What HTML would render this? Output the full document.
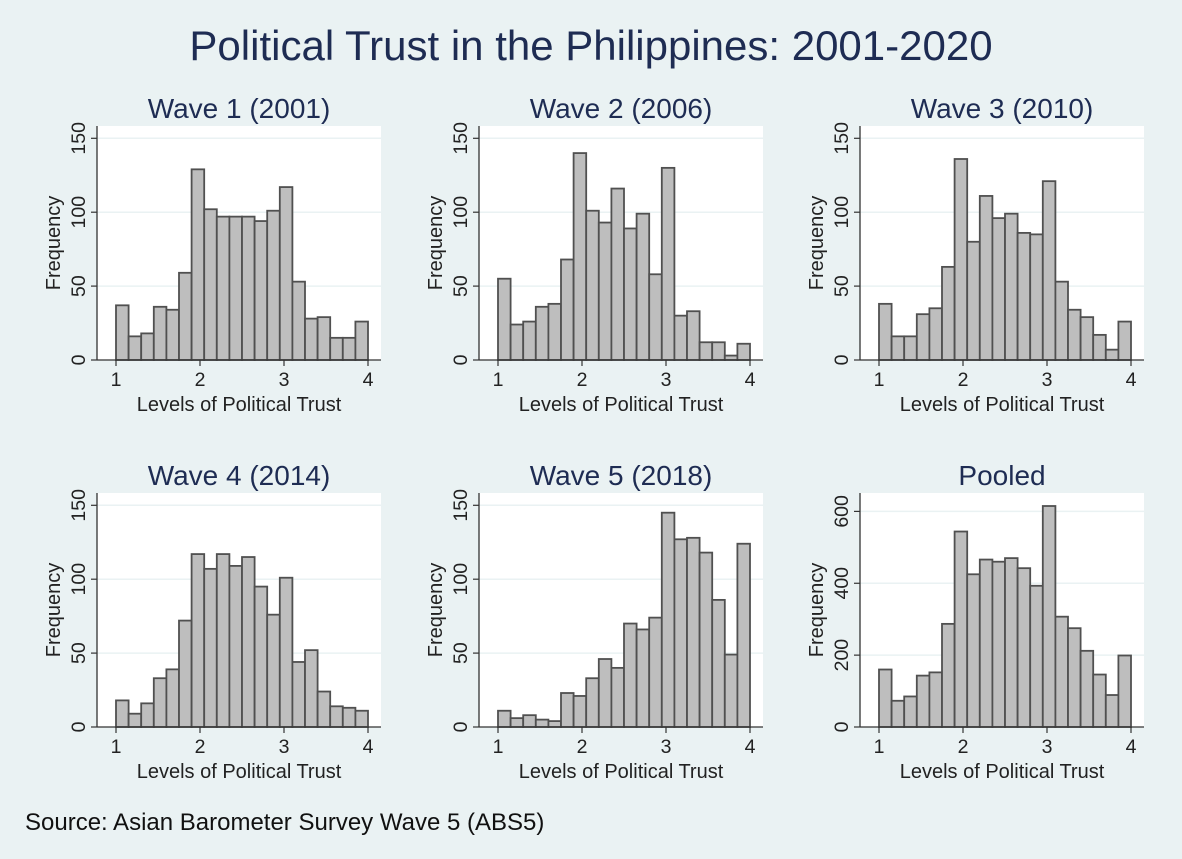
<!DOCTYPE html>
<html><head><meta charset="utf-8">
<style>
html,body{margin:0;padding:0;background:#eaf2f3;}
svg{display:block;font-family:"Liberation Sans",sans-serif;}
</style></head>
<body>
<svg id="chart" width="1182" height="859">
<rect x="0" y="0" width="1182" height="859" fill="#eaf2f3"/>
<text x="591" y="60" text-anchor="middle" font-size="42" fill="#1e2c53">Political Trust in the Philippines: 2001-2020</text>
<text x="25" y="830" font-size="24" fill="#111">Source: Asian Barometer Survey Wave 5 (ABS5)</text>
</svg>
<script>
const panelTitles = ["Wave 1 (2001)","Wave 2 (2006)","Wave 3 (2010)","Wave 4 (2014)","Wave 5 (2018)","Pooled"];
const binStart = 1, binWidth = 0.15;
const xTicks = [1,2,3,4];
const yTicksSmall = [0,50,100,150];
const yTicksPooled = [0,200,400,600];
const wave1 = [37,16,18,36,34,59,129,102,97,97,97,94,101,117,53,28,29,15,15,26];
const wave2 = [55,24,26,36,38,68,140,101,93,116,89,99,58,130,30,33,12,12,3,11];
const wave3 = [38,16,16,31,35,63,136,80,111,96,99,86,85,121,53,34,29,17,7,26];
const wave4 = [18,9,16,33,39,72,117,107,117,109,115,95,76,101,44,52,24,14,13,11];
const wave5 = [11,6,8,5,4,23,21,33,46,40,70,66,74,145,127,128,118,86,49,124];
const pooled = [160,73,85,143,152,287,544,425,466,460,470,442,393,615,307,275,212,146,89,199];
const series = [wave1,wave2,wave3,wave4,wave5,pooled];

const NS = "http://www.w3.org/2000/svg";
const svg = document.getElementById('chart');
function mk(tag, attrs, parent){
  const e = document.createElementNS(NS, tag);
  for (const k in attrs) e.setAttribute(k, attrs[k]);
  (parent||svg).appendChild(e);
  return e;
}
const dxs = [0,382,763], dys = [0,367];
series.forEach((vals, i) => {
  const ox = dxs[i%3], oy = dys[Math.floor(i/3)];
  const g = mk('g', {});
  
  
  const left = 97+ox, right = 381+ox, top = 126+oy, bottom = 360+oy;
  const isPooled = i === 5;
  const yt = isPooled ? yTicksPooled : yTicksSmall;
  const pxPer = isPooled ? 215.6/600 : 221.7/150;
  const xS = v => 116 + ox + (v-1)*84;
  const yS = v => bottom - v*pxPer;
  const pa = mk('rect', {x:left, y:top, width:right-left, height:bottom-top, fill:'#ffffff'}, g);
  
  
  yt.forEach(t => {
    if (t > 0) {
      const gl = mk('line', {x1:left, x2:right, y1:yS(t), y2:yS(t), stroke:'#eaf2f3', 'stroke-width':1.5}, g);
      
      
    }
    const tk = mk('line', {x1:left-6, x2:left, y1:yS(t), y2:yS(t), stroke:'#333', 'stroke-width':1.2}, g);
    
    
    const tl = mk('text', {x:0, y:0, 'font-size':19.5, fill:'#222', 'text-anchor':'middle',
      transform:`translate(${left-12},${yS(t)}) rotate(-90)`}, g);
    tl.textContent = t;
    
    
  });
  vals.forEach((v, j) => {
    const x0 = xS(binStart + j*binWidth), x1 = xS(binStart + (j+1)*binWidth);
    const b = mk('rect', {x:x0, y:yS(v), width:x1-x0, height:bottom-yS(v), fill:'#bebebe', stroke:'#505050', 'stroke-width':1.8}, g);
    
    
  });
  const ya = mk('line', {x1:left, x2:left, y1:top, y2:bottom, stroke:'#333', 'stroke-width':1.3}, g);
  
  
  const xa = mk('line', {x1:left, x2:right, y1:bottom, y2:bottom, stroke:'#333', 'stroke-width':1.3}, g);
  
  
  xTicks.forEach(t => {
    const tk = mk('line', {x1:xS(t), x2:xS(t), y1:bottom, y2:bottom+6, stroke:'#333', 'stroke-width':1.2}, g);
    
    
    const tl = mk('text', {x:xS(t), y:bottom+26, 'font-size':19.5, fill:'#222', 'text-anchor':'middle'}, g);
    tl.textContent = t;
    
    
  });
  const xt = mk('text', {x:239+ox, y:bottom+51, 'font-size':20, fill:'#222', 'text-anchor':'middle'}, g);
  xt.textContent = 'Levels of Political Trust';
  
  
  const ytl = mk('text', {x:0, y:0, 'font-size':20, fill:'#222', 'text-anchor':'middle',
    transform:`translate(${60+ox},${243+oy}) rotate(-90)`}, g);
  ytl.textContent = 'Frequency';
  
  
  const pt = mk('text', {x:239+ox, y:118+oy, 'font-size':28, fill:'#1e2c53', 'text-anchor':'middle'}, g);
  pt.textContent = panelTitles[i];
  
  
});
</script>
</body></html>
